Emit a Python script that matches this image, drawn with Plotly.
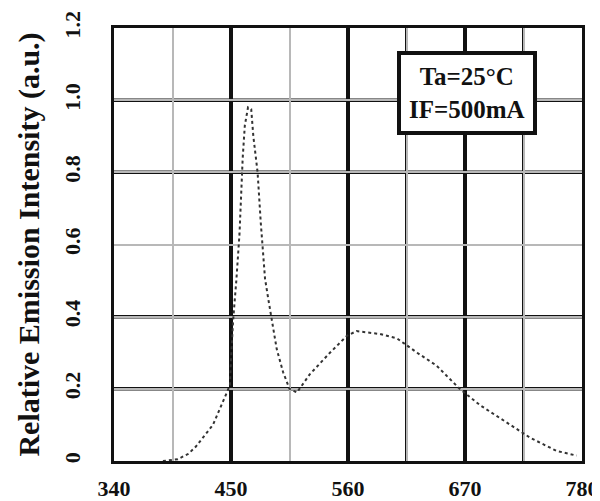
import plotly.graph_objects as go

# Data
wavelength = [386, 400, 410, 417, 425, 433, 441, 446, 449, 450, 452, 455, 458, 461, 463, 466,
              469, 471, 475, 478, 480, 482, 485, 488, 493, 499, 505, 512, 524, 543, 559, 568,
              590, 606, 625, 643, 665, 684, 707, 731, 756, 775]
intensity = [0.0, 0.005, 0.02, 0.04, 0.07, 0.10, 0.155, 0.19, 0.21, 0.28, 0.39, 0.50, 0.63, 0.84, 0.93, 0.98,
             0.975, 0.90, 0.80, 0.66, 0.57, 0.505, 0.45, 0.40, 0.31, 0.246, 0.20, 0.19, 0.24, 0.30, 0.347, 0.36,
             0.352, 0.34, 0.30, 0.265, 0.20, 0.155, 0.11, 0.065, 0.028, 0.015]
x_tick_vals = [340, 450, 560, 670, 780]
x_tick_text = ["340", "450", "560", "670", "780"]
y_tick_vals = [0, 0.2, 0.4, 0.6, 0.8, 1.0, 1.2]
y_tick_text = ["0", "0.2", "0.4", "0.6", "0.8", "1.0", "1.2"]
thick_x_lines = [615, 725]
thick_y_lines = [0.2, 0.4, 0.8, 1.0]
condition_text = "Ta=25°C<br>IF=500mA"

FONT = "Liberation Serif"

fig = go.Figure()
fig.add_trace(go.Scatter(
    x=wavelength, y=intensity, mode="lines",
    line=dict(color="#333333", width=2, dash="dot"),
    showlegend=False,
))

shapes = []
for xv in thick_x_lines:
    shapes.append(dict(type="line", xref="x", yref="paper", x0=xv, x1=xv, y0=0, y1=1,
                       line=dict(color="#111111", width=3), layer="below"))
for yv in thick_y_lines:
    shapes.append(dict(type="line", xref="paper", yref="y", x0=0, x1=1, y0=yv, y1=yv,
                       line=dict(color="#111111", width=3.5), layer="below"))

fig.update_layout(
    width=600, height=501,
    margin=dict(l=106, r=26, t=20, b=48, autoexpand=False),
    paper_bgcolor="white", plot_bgcolor="white",
    font=dict(family=FONT, color="#111111"),
    shapes=shapes,
    annotations=[dict(
        text=condition_text, xref="paper", yref="paper", x=0.755, y=0.85,
        xanchor="center", yanchor="middle", showarrow=False,
        font=dict(family=FONT, size=25, color="#111111", weight="bold"),
        bordercolor="#111111", borderwidth=4, bgcolor="white",
        borderpad=8,
    )],
)
fig.update_xaxes(
    range=[340, 780], tickvals=x_tick_vals, ticktext=x_tick_text,
    showgrid=True, gridcolor="#111111", gridwidth=3.5,
    minor=dict(dtick=55, tick0=340, showgrid=True, gridcolor="#b8b8b8", gridwidth=1.5),
    showline=True, linecolor="#111111", linewidth=3, mirror=True,
    ticks="", ticklabelstandoff=6, automargin=False,
    tickfont=dict(family=FONT, size=22, weight="bold"),
    zeroline=False,
)
fig.update_yaxes(
    range=[0, 1.2], tickvals=y_tick_vals, ticktext=y_tick_text,
    showgrid=True, gridcolor="#b8b8b8", gridwidth=1.5,
    showline=True, linecolor="#111111", linewidth=3, mirror=True,
    ticks="", tickangle=-90, ticklabelstandoff=22, automargin=False,
    tickfont=dict(family=FONT, size=22, weight="bold"),
    title=dict(text="Relative Emission Intensity (a.u.)", standoff=12,
               font=dict(family=FONT, size=30, weight="bold")),
    zeroline=False,
)

fig.write_html("out.html")
